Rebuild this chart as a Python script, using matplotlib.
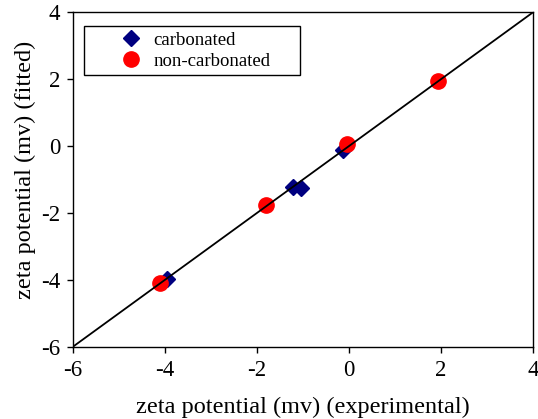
import matplotlib
matplotlib.use("Agg")
import matplotlib.pyplot as plt

# --- data ---
carb_x = [-3.94, -1.21, -1.03, -0.13]
carb_y = [-3.98, -1.22, -1.26, -0.10]
noncarb_x = [-4.11, -1.80, -0.05, 1.94]
noncarb_y = [-4.08, -1.77, 0.07, 1.96]
fit_line = [-6, 4]
ticks = [-6, -4, -2, 0, 2, 4]

plt.rcParams['font.family'] = ['Liberation Serif', 'DejaVu Serif']
plt.rcParams['axes.unicode_minus'] = False

fig = plt.figure(figsize=(5.38, 4.19), dpi=100)
ax = fig.add_axes([0.1348, 0.1718, 0.8559, 0.7988])

ax.plot(carb_x, carb_y, linestyle='none', marker='D', markersize=8.5,
        color='#000080', label='carbonated', zorder=2)
ax.plot(noncarb_x, noncarb_y, linestyle='none', marker='o', markersize=11,
        color='#ff0000', label='non-carbonated', zorder=3)
ax.plot(fit_line, fit_line, color='black', lw=1.3, zorder=4)

ax.set_xlim(-6, 4)
ax.set_ylim(-6, 4)
ax.set_xticks(ticks)
ax.set_yticks(ticks)
ax.tick_params(direction='out', length=4, width=1, labelsize=16.5, pad=5,
               top=False, right=False)
for sp in ax.spines.values():
    sp.set_linewidth(1.0)
    sp.set_color('black')

ax.set_xlabel('zeta potential (mv) (experimental)', fontsize=17.5)
ax.set_ylabel('zeta potential (mv) (fitted)', fontsize=17.5)
ax.xaxis.set_label_coords(0.5, -0.15)
ax.yaxis.set_label_coords(-0.08, 0.53)

leg = ax.legend(loc='upper left', bbox_to_anchor=(0.025, 0.959, 0.469, 0.0),
                mode='expand', fontsize=13.5, frameon=True, fancybox=False,
                edgecolor='black', framealpha=1, borderpad=0.3,
                handlelength=4.4, handletextpad=-1.0, labelspacing=0.2,
                borderaxespad=0, numpoints=1)
leg.get_frame().set_linewidth(1.0)

fig.savefig('out.png', dpi=100)
